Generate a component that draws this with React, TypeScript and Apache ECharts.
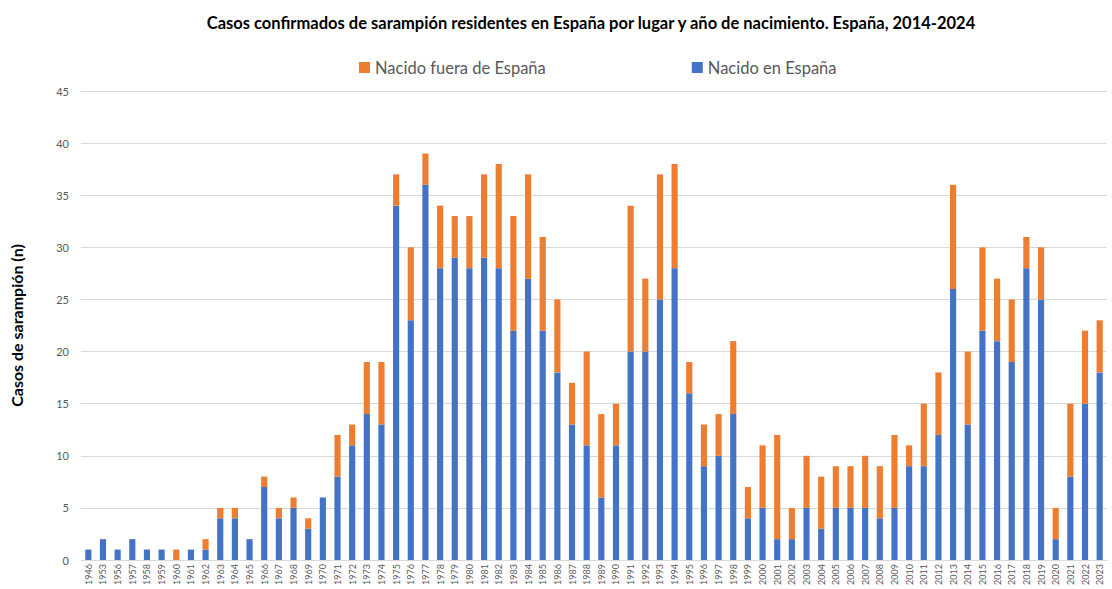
import React, { useEffect, useRef } from "react";
import * as echarts from "echarts";

const years = [
  "1946", "1953", "1956", "1957", "1958", "1959", "1960", "1961", "1962", "1963",
  "1964", "1965", "1966", "1967", "1968", "1969", "1970", "1971", "1972", "1973",
  "1974", "1975", "1976", "1977", "1978", "1979", "1980", "1981", "1982", "1983",
  "1984", "1985", "1986", "1987", "1988", "1989", "1990", "1991", "1992", "1993",
  "1994", "1995", "1996", "1997", "1998", "1999", "2000", "2001", "2002", "2003",
  "2004", "2005", "2006", "2007", "2008", "2009", "2010", "2011", "2012", "2013",
  "2014", "2015", "2016", "2017", "2018", "2019", "2020", "2021", "2022", "2023",
];

const nacidoEnEspana = [
  1, 2, 1, 2, 1, 1, 0, 1, 1, 4,
  4, 2, 7, 4, 5, 3, 6, 8, 11, 14,
  13, 34, 23, 36, 28, 29, 28, 29, 28, 22,
  27, 22, 18, 13, 11, 6, 11, 20, 20, 25,
  28, 16, 9, 10, 14, 4, 5, 2, 2, 5,
  3, 5, 5, 5, 4, 5, 9, 9, 12, 26,
  13, 22, 21, 19, 28, 25, 2, 8, 15, 18,
];

const nacidoFuera = [
  0, 0, 0, 0, 0, 0, 1, 0, 1, 1,
  1, 0, 1, 1, 1, 1, 0, 4, 2, 5,
  6, 3, 7, 3, 6, 4, 5, 8, 10, 11,
  10, 9, 7, 4, 9, 8, 4, 14, 7, 12,
  10, 3, 4, 4, 7, 3, 6, 10, 3, 5,
  5, 4, 4, 5, 5, 7, 2, 6, 6, 10,
  7, 8, 6, 6, 3, 5, 3, 7, 7, 5,
];

const yTicks = { min: 0, max: 45, interval: 5 };

const FONT = "Lato, 'Open Sans', sans-serif";

export default function App() {
  const ref = useRef<HTMLDivElement>(null);
  useEffect(() => {
    if (!ref.current) return;
    const chart = echarts.init(ref.current, undefined, { renderer: "svg" });
    chart.setOption({
      animation: false,
      textStyle: { fontFamily: FONT },
      title: {
        text: "Casos confirmados de sarampión residentes en España por lugar y año de nacimiento. España, 2014-2024",
        left: 586,
        textAlign: "center",
        top: 9,
        textStyle: { fontSize: 16.5, fontWeight: "bold", color: "#000", fontFamily: FONT },
      },
      legend: {
        data: ["Nacido fuera de España", "Nacido en España"],
        top: 54,
        left: 354,
        itemGap: 146,
        itemWidth: 11,
        itemHeight: 11,
        icon: "rect",
        textStyle: { fontSize: 16.5, color: "#595959", fontFamily: FONT },
      },
      grid: { left: 81, right: 5, top: 91, bottom: 29 },
      xAxis: {
        type: "category",
        data: years,
        axisLine: { lineStyle: { color: "#d9d9d9" } },
        axisTick: { show: false },
        axisLabel: { rotate: 90, fontSize: 9, color: "#595959", interval: 0, margin: 4 },
      },
      yAxis: {
        type: "value",
        min: yTicks.min,
        max: yTicks.max,
        interval: yTicks.interval,
        name: "Casos de sarampión (n)",
        nameLocation: "middle",
        nameGap: 57,
        nameRotate: 90,
        nameTextStyle: { fontSize: 16, fontWeight: "bold", color: "#000" },
        axisLine: { show: false },
        axisTick: { show: false },
        axisLabel: { fontSize: 11, color: "#595959", margin: 12 },
        splitLine: { lineStyle: { color: "#d9d9d9" } },
      },
      series: [
        {
          name: "Nacido en España",
          type: "bar",
          stack: "total",
          data: nacidoEnEspana,
          barWidth: "42%",
          itemStyle: { color: "#4472C4" },
        },
        {
          name: "Nacido fuera de España",
          type: "bar",
          stack: "total",
          data: nacidoFuera,
          barWidth: "42%",
          itemStyle: { color: "#ED7D31" },
        },
      ],
    });
    return () => chart.dispose();
  }, []);
  return (
    <div
      ref={ref}
      style={{ position: "absolute", left: 0, top: 0, width: 1112, height: 589, background: "#fff" }}
    />
  );
}
